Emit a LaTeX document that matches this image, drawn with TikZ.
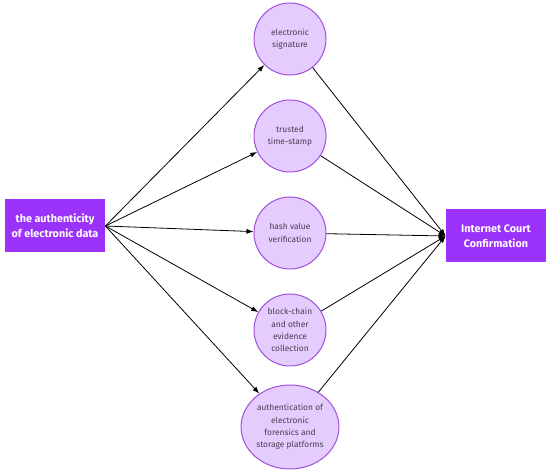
\documentclass[tikz,border=0pt]{standalone}
\usepackage{fontspec}
\setmainfont{Fira Sans}
\usepackage{xcolor}
\usetikzlibrary{positioning,shapes.geometric,arrows.meta}
\definecolor{boxpurple}{RGB}{155,50,250}
\definecolor{lilac}{RGB}{229,204,255}
\definecolor{ringpurple}{RGB}{160,80,220}
\definecolor{txtgray}{RGB}{70,62,80}

\begin{document}
\begin{tikzpicture}[x=1pt, y=1pt, node distance={97pt}, thick,
    main/.style = {draw=ringpurple, line width=1pt, fill=lilac, circle, minimum size=72pt,
        align=center, font=\fontsize{8.4}{12.3}\selectfont, text=txtgray, inner sep=1pt},
    oval/.style = {main, ellipse, minimum width=96pt, minimum height=84pt},
    box/.style = {fill=boxpurple, minimum width=100pt, minimum height=53pt, align=center,
        font=\fontsize{10.8}{15}\selectfont\bfseries, text=white},
    arr/.style = {-{Latex[length=7pt,width=5pt]}, line width=0.8pt} ]
        \useasboundingbox (0,0) rectangle (550,476);
        \node[box] (auth) at (55,250) {the authenticity\\of electronic data};
        \node[box] (court) at (496,240) {Internet Court\\Confirmation};

        \node[main] (sign) at (290,437) {electronic\\signature};
        \node[main] (stamp) [below of = sign] {trusted\\time-stamp};
        \node[main] (hash) [below of = stamp] {hash value\\verification};
        \node[main] (chain) [below of = hash] {block-chain\\and other\\evidence\\collection};
        \node[oval] (forens) [below of = chain] {authentication of\\electronic\\forensics and\\storage platforms};

        \foreach \n in {sign, stamp, hash, chain, forens} {
            \draw[arr] (auth.east) -- (\n);
            \draw[arr] (\n) -- (court.west);
        }

    \end{tikzpicture}
\end{document}
